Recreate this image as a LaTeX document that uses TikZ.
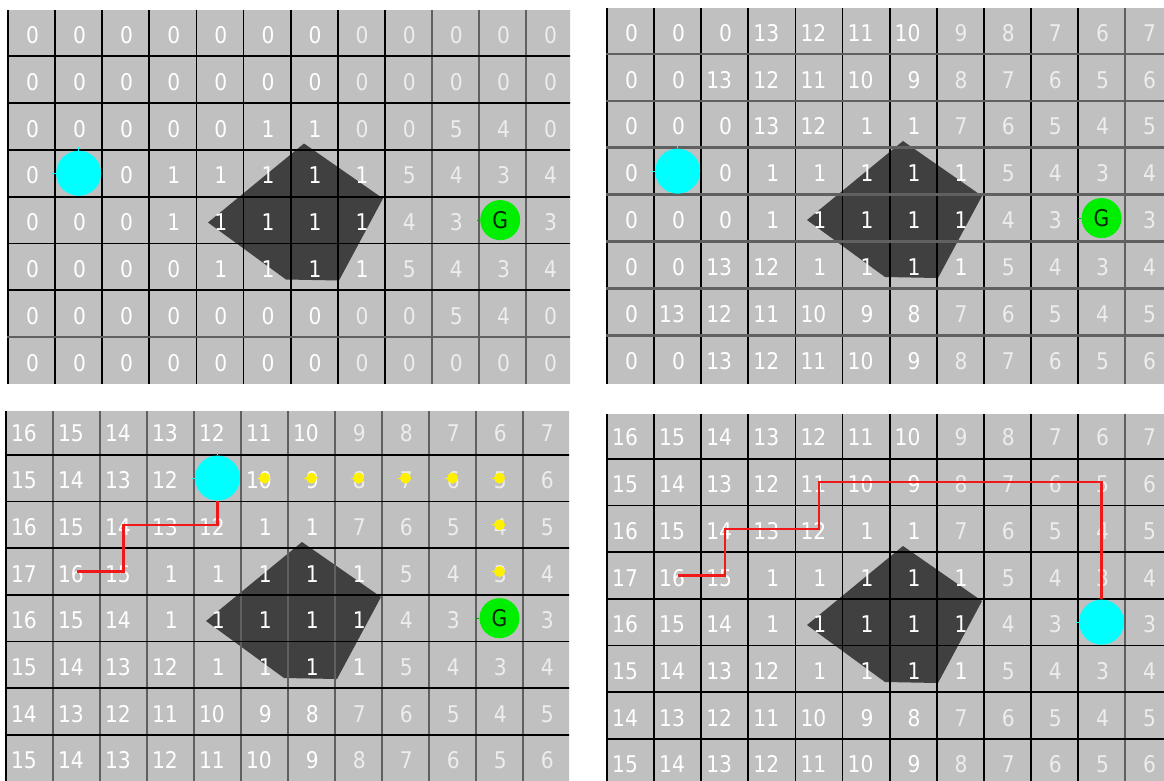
\documentclass[tikz,border=0pt]{standalone}
\usepackage{fontspec}
\usepackage{graphicx}
\newfontfamily\numfont{DejaVu Sans}
\definecolor{cellbg}{HTML}{C0C0C0}
\definecolor{obst}{HTML}{404040}
\definecolor{linegray}{HTML}{606060}
\definecolor{numw}{HTML}{FFFFFF}
\definecolor{numg}{HTML}{EDEDED}
\definecolor{goalgreen}{HTML}{00EE00}
\definecolor{gtext}{HTML}{002800}
\definecolor{pathred}{HTML}{F01818}
\definecolor{robotcyan}{HTML}{00FFFF}
\definecolor{dotyellow}{HTML}{FFF000}
\tikzset{
  num/.style={anchor=base east, inner sep=0pt, font=\numfont\fontsize{23}{24}\selectfont},
  blackline/.style={line width=1.8pt, black},
  grayline/.style={line width=2.5pt, linegray},
  robot/.style={circle, fill=robotcyan, inner sep=0pt, minimum size=45pt},
  goal/.style={circle, fill=goalgreen, inner sep=0pt, minimum size=40pt, text=gtext, font=\numfont\fontsize{23}{24}\selectfont},
  dot/.style={circle, fill=dotyellow, inner sep=0pt, minimum size=11pt},
  redpath/.style={pathred, line width=2.2pt},
  robottick/.style={robotcyan, line width=1pt},
  goaltick/.style={goalgreen!70!black, line width=1pt},
}
\def\skipmark{x}
\def\NX{0.66}
\def\NY{0.727}
\newcommand\digits[1]{\scalebox{0.88}[1]{#1}}
\newcommand\numgrid[2]{%
  \foreach \row [count=\ri from 0] in {#2} {
    \foreach \v [count=\ci from 0] in \row {
      \ifx\v\skipmark\else
        \ifnum\ci>6 \ifnum\v=1 \def\tc{numw}\else\def\tc{numg}\fi\else\def\tc{numw}\fi
        \node[num,text=\tc] (#1-n-\ri-\ci) at ({\ci+\NX},{\ri+\NY}) {\digits{\v}};
      \fi
    }
  }%
}
\newcommand\obstacle{%
  \begin{scope}[x=1pt,y=-1pt]
    \fill[obst] (296,134) -- (375,189) -- (331,271) -- (278,270) -- (200,213) -- cycle;
  \end{scope}%
}
\begin{document}
\begin{tikzpicture}[x=1pt,y=-1pt]
\useasboundingbox (0,0) rectangle (1164,780);
\fill[white] (0,0) rectangle (1164,780);

% ---------------- top left ----------------
\begin{scope}
\clip (7,10) rectangle (570,383.5);
\begin{scope}[shift={(8,9.5)}, x=47.1pt, y=-46.8pt]
  \fill[cellbg] (-1,-1) rectangle (13,9);
  \obstacle
  \foreach \k in {0,...,8} \draw[blackline] (\k,-0.2) -- (\k,8.2);
  \foreach \k in {9,...,11} \draw[grayline] (\k,-0.2) -- (\k,8.2);
  \foreach \k in {1,...,6} \draw[blackline] (-0.2,\k) -- (12.2,\k);
  \draw[grayline] (-0.2,7) -- (12.2,7);
  \numgrid{tl}{
    {0,0,0,0,0,0,0,0,0,0,0,0},
    {0,0,0,0,0,0,0,0,0,0,0,0},
    {0,0,0,0,0,1,1,0,0,5,4,0},
    {0,x,0,1,1,1,1,1,5,4,3,4},
    {0,0,0,1,1,1,1,1,4,3,x,3},
    {0,0,0,0,1,1,1,1,5,4,3,4},
    {0,0,0,0,0,0,0,0,0,5,4,0},
    {0,0,0,0,0,0,0,0,0,0,0,0}}
  \node[goal] (tl-goal) at (10.45,4.5) {\digits{G}};
  \draw[goaltick] (tl-goal.west) -- ++(-3pt,0pt);
  \node[robot] (tl-robot) at (1.5,3.5) {};
  \draw[robottick] (tl-robot.north) -- ++(0pt,3.5pt);
  \draw[robottick] (tl-robot.west) -- ++(-3.5pt,0pt);
\end{scope}
\end{scope}

% ---------------- top right ----------------
\begin{scope}
\clip (606,8) rectangle (1164,383);
\begin{scope}[shift={(607,7)}, x=47.1pt, y=-46.9pt]
  \fill[cellbg] (-1,-1) rectangle (13,9);
  \obstacle
  \foreach \k in {0,...,10} \draw[blackline] (\k,-0.2) -- (\k,8.2);
  \draw[grayline] (11,-0.2) -- (11,8.2);
  \foreach \k in {1,...,7} \draw[grayline] (-0.2,\k) -- (12.2,\k);
  \numgrid{tr}{
    {0,0,0,13,12,11,10,9,8,7,6,7},
    {0,0,13,12,11,10,9,8,7,6,5,6},
    {0,0,0,13,12,1,1,7,6,5,4,5},
    {0,x,0,1,1,1,1,1,5,4,3,4},
    {0,0,0,1,1,1,1,1,4,3,x,3},
    {0,0,13,12,1,1,1,1,5,4,3,4},
    {0,13,12,11,10,9,8,7,6,5,4,5},
    {0,0,13,12,11,10,9,8,7,6,5,6}}
  \node[goal] (tr-goal) at (10.5,4.5) {\digits{G}};
  \draw[goaltick] (tr-goal.west) -- ++(-3pt,0pt);
  \node[robot] (tr-robot) at (1.5,3.5) {};
  \draw[robottick] (tr-robot.north) -- ++(0pt,3.5pt);
  \draw[robottick] (tr-robot.west) -- ++(-3.5pt,0pt);
\end{scope}
\end{scope}

% ---------------- bottom left ----------------
\begin{scope}
\clip (5,411) rectangle (569,780);
\begin{scope}[shift={(6,408)}, x=47pt, y=-46.7pt]
  \fill[cellbg] (-1,-1) rectangle (13,9);
  \obstacle
  \draw[blackline] (0,-0.2) -- (0,8.2);
  \foreach \k in {1,...,11} \draw[grayline] (\k,-0.2) -- (\k,8.2);
  \foreach \k in {1,...,7} \draw[blackline] (-0.2,\k) -- (12.2,\k);
  \numgrid{bl}{
    {16,15,14,13,12,11,10,9,8,7,6,7},
    {15,14,13,12,x,10,9,8,7,6,5,6},
    {16,15,14,13,12,1,1,7,6,5,4,5},
    {17,16,15,1,1,1,1,1,5,4,3,4},
    {16,15,14,1,1,1,1,1,4,3,x,3},
    {15,14,13,12,1,1,1,1,5,4,3,4},
    {14,13,12,11,10,9,8,7,6,5,4,5},
    {15,14,13,12,11,10,9,8,7,6,5,6}}
  \foreach \cc in {5,...,10} {
    \node[dot] (bl-d1-\cc) at (\cc+0.5,1.5) {};
    \draw[dotyellow, line width=1pt] (bl-d1-\cc.west) -- ++(-2pt,0pt);
  }
  \node[dot] (bl-d2) at (10.5,2.5) {};
  \node[dot] (bl-d3) at (10.5,3.5) {};
  \draw[dotyellow, line width=1pt] (bl-d2.west) -- ++(-2pt,0pt);
  \draw[dotyellow, line width=1pt] (bl-d3.west) -- ++(-2pt,0pt);
  \node[goal] (bl-goal) at (10.5,4.5) {\digits{G}};
  \draw[goaltick] (bl-goal.west) -- ++(-3pt,0pt);
  \node[robot] (bl-robot) at (4.5,1.5) {};
  \draw[robottick] (bl-robot.north) -- ++(0pt,3.5pt);
  \draw[robottick] (bl-robot.west) -- ++(-3.5pt,0pt);
  \coordinate (bl-w1) at (4.5,2.5);
  \coordinate (bl-w2) at (2.5,2.5);
  \coordinate (bl-w3) at (2.5,3.5);
  \coordinate (bl-w4) at (1.5,3.5);
  \draw[redpath] (bl-robot) -- (bl-w1) -- (bl-w2) -- (bl-w3) -- (bl-w4);
\end{scope}
\end{scope}

% ---------------- bottom right ----------------
\begin{scope}
\clip (606,414) rectangle (1164,780);
\begin{scope}[shift={(607,412)}, x=47.1pt, y=-46.7pt]
  \fill[cellbg] (-1,-1) rectangle (13,9);
  \obstacle
  \foreach \k in {0,...,10} \draw[blackline] (\k,-0.2) -- (\k,8.2);
  \draw[grayline] (11,-0.2) -- (11,8.2);
  \foreach \k in {1,...,7} \draw[blackline] (-0.2,\k) -- (12.2,\k);
  \numgrid{br}{
    {16,15,14,13,12,11,10,9,8,7,6,7},
    {15,14,13,12,11,10,9,8,7,6,5,6},
    {16,15,14,13,12,1,1,7,6,5,4,5},
    {17,16,15,1,1,1,1,1,5,4,3,4},
    {16,15,14,1,1,1,1,1,4,3,x,3},
    {15,14,13,12,1,1,1,1,5,4,3,4},
    {14,13,12,11,10,9,8,7,6,5,4,5},
    {15,14,13,12,11,10,9,8,7,6,5,6}}
  \node[robot] (br-robot) at (10.5,4.5) {};
  \draw[robottick] (br-robot.west) -- ++(-3.5pt,0pt);
  \coordinate (br-w1) at (1.5,3.5);
  \coordinate (br-w2) at (2.5,3.5);
  \coordinate (br-w3) at (2.5,2.5);
  \coordinate (br-w4) at (4.5,2.5);
  \coordinate (br-w5) at (4.5,1.5);
  \coordinate (br-w6) at (10.5,1.5);
  \draw[redpath] (br-w1) -- (br-w2) -- (br-w3) -- (br-w4) -- (br-w5) -- (br-w6) -- (br-robot);
\end{scope}
\end{scope}
\end{tikzpicture}
\end{document}
